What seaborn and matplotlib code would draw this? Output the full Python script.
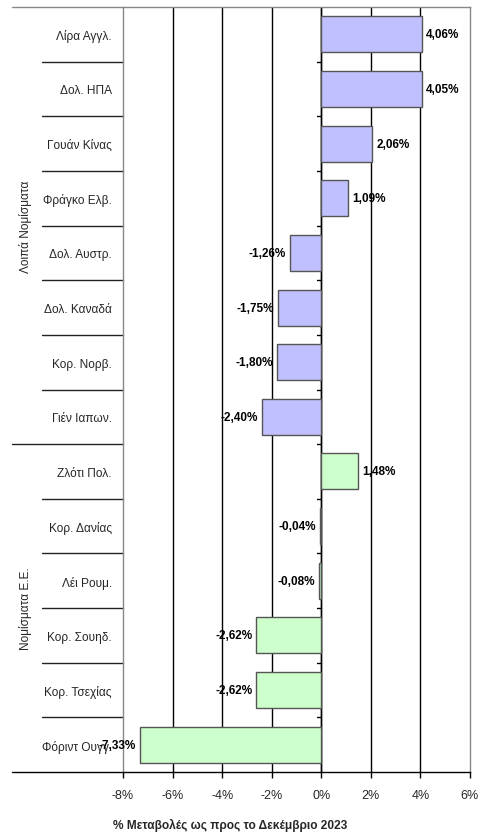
import matplotlib
matplotlib.use("Agg")
import matplotlib.pyplot as plt
import matplotlib.transforms as mtransforms
import seaborn as sns
import pandas as pd

categories = ["Λίρα Αγγλ.", "Δολ. ΗΠΑ", "Γουάν Κίνας", "Φράγκο Ελβ.", "Δολ. Αυστρ.",
              "Δολ. Καναδά", "Κορ. Νορβ.", "Γιέν Ιαπων.",
              "Ζλότι Πολ.", "Κορ. Δανίας", "Λέι Ρουμ.", "Κορ. Σουηδ.", "Κορ. Τσεχίας",
              "Φόριντ Ουγγ."]
values = [4.06, 4.05, 2.06, 1.09, -1.26, -1.75, -1.80, -2.40,
          1.48, -0.04, -0.08, -2.62, -2.62, -7.33]
groups = ["Λοιπά Νομίσματα"] * 8 + ["Νομίσματα Ε.Ε."] * 6
group_names = ["Λοιπά Νομίσματα", "Νομίσματα Ε.Ε."]
group_colors = {"Λοιπά Νομίσματα": "#C0C0FF", "Νομίσματα Ε.Ε.": "#CCFFCC"}
xticks = [-8, -6, -4, -2, 0, 2, 4, 6]
xlabel = "% Μεταβολές ως προς το Δεκέμβριο 2023"

sns.set_style("white")
plt.rcParams["font.family"] = ["Liberation Sans", "DejaVu Sans"]

df = pd.DataFrame({"cat": categories, "val": values, "grp": groups})

W, H = 479, 837
fig = plt.figure(figsize=(W / 100, H / 100), dpi=100)
L, R, T, B = 123, 470, 8, 773
ax = fig.add_axes([L / W, 1 - B / H, (R - L) / W, (B - T) / H])

for g in xticks[1:-1]:
    ax.axvline(g, color="black", lw=1, zorder=0.5)

sns.barplot(data=df, y="cat", x="val", hue="grp", palette=group_colors,
            dodge=False, legend=False, orient="h", width=0.66, saturation=1,
            edgecolor="#555555", linewidth=1, ax=ax, zorder=2)

for cont in ax.containers:
    labels = [("%.2f" % b.get_width()).replace(".", ",") + "%" for b in cont]
    ax.bar_label(cont, labels=labels, padding=3, fontsize=8.5, fontweight="bold",
                 color="black", zorder=5)

ax.set_xlim(xticks[0], xticks[-1])
ax.set_ylim(len(categories) - 0.5, -0.5)
ax.set_xticks(xticks)
ax.set_xticklabels([f"{t}%" for t in xticks], fontsize=9)
ax.tick_params(axis="x", direction="out", length=4, width=1, color="black", pad=8, bottom=True)
ax.tick_params(axis="y", length=0, pad=8, labelsize=8.6)
ax.set_xlabel("")
ax.set_ylabel("")

for s in ["left", "right", "top"]:
    ax.spines[s].set_color("#888888")
    ax.spines[s].set_linewidth(1)
ax.spines["bottom"].set_color("black")
ax.spines["bottom"].set_linewidth(1)

# zero axis with category tick marks
ax.axvline(0, color="black", lw=1, zorder=1.5)
for i in range(len(categories) - 1):
    ax.plot([-0.16, 0], [i + 0.5, i + 0.5], color="black", lw=1, zorder=1.6, clip_on=False)

# left margin separators
trans = mtransforms.blended_transform_factory(fig.transFigure, ax.transData)
n1 = groups.count(group_names[0])
for i in range(len(categories) - 1):
    x0 = 12 / W if i == n1 - 1 else 42 / W
    ax.plot([x0, L / W], [i + 0.5, i + 0.5], color="#222222", lw=1,
            transform=trans, clip_on=False)
ax.plot([12 / W, L / W], [-0.5, -0.5], color="#888888", lw=1, transform=trans, clip_on=False)
ax.plot([12 / W, L / W], [len(categories) - 0.5] * 2, color="black", lw=1,
        transform=trans, clip_on=False)

# group labels
n2 = len(categories) - n1
ax.text(26 / W, (n1 - 1) / 2, group_names[0], rotation=90, ha="center", va="center",
        fontsize=8.6, transform=trans)
ax.text(26 / W, n1 + (n2 - 1) / 2, group_names[1], rotation=90, ha="center", va="center",
        fontsize=8.6, transform=trans)

ax.set_xlim(xticks[0], xticks[-1])
ax.set_ylim(len(categories) - 0.5, -0.5)

fig.text(230 / W, 1 - 825 / H, xlabel, ha="center", va="center", fontsize=8.6, fontweight="bold")

fig.savefig("out.png", dpi=100)
